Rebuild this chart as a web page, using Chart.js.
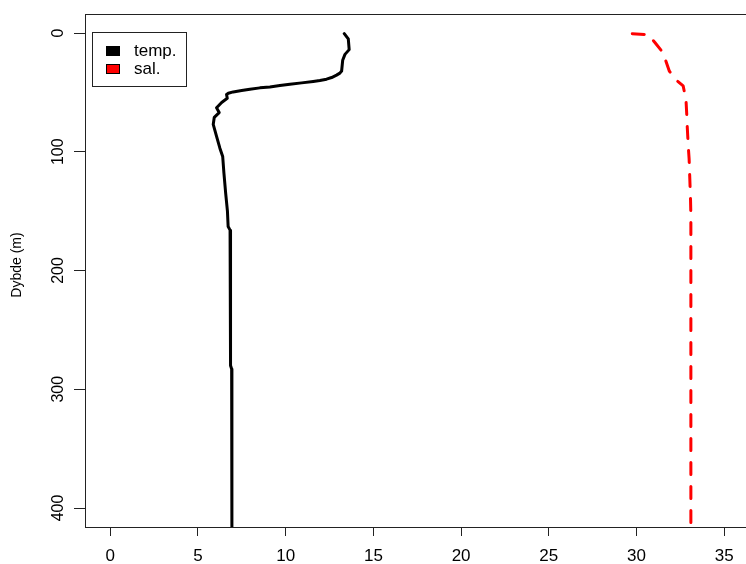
<!DOCTYPE html>
<html>
<head>
<meta charset="utf-8">
<script src="https://cdn.jsdelivr.net/npm/chart.js@4/dist/chart.umd.min.js"></script>
<style>
  html, body { margin: 0; padding: 0; background: #fff; overflow: hidden; }
  #wrap { width: 746px; height: 564px; overflow: hidden; position: relative; }
  canvas { display: block; }
</style>
</head>
<body>
<div id="wrap"><canvas id="c" width="770" height="564"></canvas></div>
<script>
// CTD profile: temperature and salinity against depth
const depthTemp = [0.5, 5, 14, 18, 23, 32, 33.8, 35.5, 37.5, 38.9, 40, 40.8, 42, 43.1, 44.2, 45.4, 46.2, 47.3, 48.4, 49.6, 50.7, 51.8, 55, 58.5, 63, 67, 71, 77, 87, 97, 104, 118, 135, 150, 163, 166, 200, 250, 280, 283, 350, 422];
const tempValues = [13.34, 13.57, 13.62, 13.38, 13.25, 13.19, 13.09, 12.9, 12.62, 12.33, 11.95, 11.57, 10.91, 10.24, 9.67, 9.1, 8.53, 7.96, 7.49, 7.01, 6.73, 6.63, 6.67, 6.35, 6.06, 6.21, 5.93, 5.87, 6.06, 6.25, 6.41, 6.48, 6.58, 6.68, 6.72, 6.83, 6.85, 6.86, 6.86, 6.92, 6.93, 6.94];

const depthSal = [0.6, 1.4, 8, 15, 23, 32, 39.5, 44.5, 56, 67, 78, 95, 106, 123, 140, 154, 250, 422];
const salValues = [29.76, 30.67, 31.05, 31.43, 31.66, 31.87, 32.25, 32.66, 32.82, 32.86, 32.89, 32.95, 33.0, 33.04, 33.08, 33.1, 33.1, 33.1];

const xTickValues = [0, 5, 10, 15, 20, 25, 30, 35];
const yTickValues = [0, 100, 200, 300, 400];
const seriesLabels = ['temp.', 'sal.'];
const seriesColors = ['#000000', '#ff0000'];
const yTitle = 'Dybde (m)';

const FONT = "'Liberation Sans', Arial, Helvetica, sans-serif";

const toPoints = (xs, ds) => ds.map((d, i) => ({ x: xs[i], y: d }));

// text, optionally turned to read upwards
function drawText(ctx, text, x, y, size, align, rotated) {
  ctx.save();
  ctx.translate(x, y);
  if (rotated) ctx.rotate(-Math.PI / 2);
  ctx.font = size + 'px ' + FONT;
  ctx.textAlign = align;
  ctx.textBaseline = 'middle';
  ctx.fillText(text, 0, 0);
  ctx.restore();
}

// frame, tick labels, axis title and legend box
const decorations = {
  id: 'decorations',
  afterDraw(chart) {
    const ctx = chart.ctx;
    const a = chart.chartArea;
    const xs = chart.scales.x;
    const ys = chart.scales.y;
    ctx.save();
    ctx.strokeStyle = '#222';
    ctx.lineWidth = 1;
    ctx.strokeRect(a.left + 0.5, a.top + 0.5, a.right - a.left, a.bottom - a.top);

    ctx.fillStyle = '#000';
    xTickValues.forEach(v => {
      drawText(ctx, String(v), xs.getPixelForValue(v), 556, 17, 'center', false);
    });
    yTickValues.forEach(v => {
      drawText(ctx, String(v), 59, ys.getPixelForValue(v), 16, 'center', true);
    });
    drawText(ctx, yTitle, 17, 265, 14, 'center', true);

    // legend
    const lx = 92, ly = 32, lw = 94, lh = 54;
    ctx.fillStyle = '#fff';
    ctx.fillRect(lx, ly, lw, lh);
    ctx.strokeStyle = '#222';
    ctx.strokeRect(lx + 0.5, ly + 0.5, lw, lh);
    seriesLabels.forEach((lab, i) => {
      const cy = 51 + i * 18;
      ctx.fillStyle = seriesColors[i];
      ctx.fillRect(106, cy - 5, 14, 10);
      ctx.strokeStyle = '#000';
      ctx.strokeRect(106.5, cy - 4.5, 13, 9);
      ctx.fillStyle = '#000';
      drawText(ctx, lab, 134, cy, 17, 'left', false);
    });
    ctx.restore();
  }
};

new Chart(document.getElementById('c'), {
  type: 'scatter',
  data: {
    datasets: [
      {
        label: seriesLabels[0],
        data: toPoints(tempValues, depthTemp),
        showLine: true,
        borderColor: seriesColors[0],
        borderWidth: 3,
        pointRadius: 0,
        borderCapStyle: 'round',
        borderJoinStyle: 'round',
        clip: 0
      },
      {
        label: seriesLabels[1],
        data: toPoints(salValues, depthSal),
        showLine: true,
        borderColor: seriesColors[1],
        borderWidth: 3,
        borderDash: [12, 12],
        pointRadius: 0,
        borderCapStyle: 'round',
        borderJoinStyle: 'round',
        clip: 0
      }
    ]
  },
  options: {
    responsive: false,
    animation: false,
    devicePixelRatio: 1,
    layout: { padding: { top: 14, right: 3, left: 0, bottom: 0 } },
    plugins: { legend: { display: false }, tooltip: { enabled: false } },
    scales: {
      x: {
        type: 'linear',
        min: -1.44,
        max: 37.44,
        afterBuildTicks: s => { s.ticks = xTickValues.map(v => ({ value: v })); },
        afterFit: s => { s.height = 37; },
        border: { display: false },
        grid: { drawOnChartArea: false, drawTicks: true, tickLength: 9, color: '#222', tickColor: '#222' },
        ticks: { display: false }
      },
      y: {
        type: 'linear',
        reverse: true,
        min: -16,
        max: 416,
        afterBuildTicks: s => { s.ticks = yTickValues.map(v => ({ value: v })); },
        afterFit: s => { s.width = 85; },
        border: { display: false },
        grid: { drawOnChartArea: false, drawTicks: true, tickLength: 11, color: '#222', tickColor: '#222' },
        ticks: { display: false }
      }
    }
  },
  plugins: [decorations]
});
</script>
</body>
</html>
